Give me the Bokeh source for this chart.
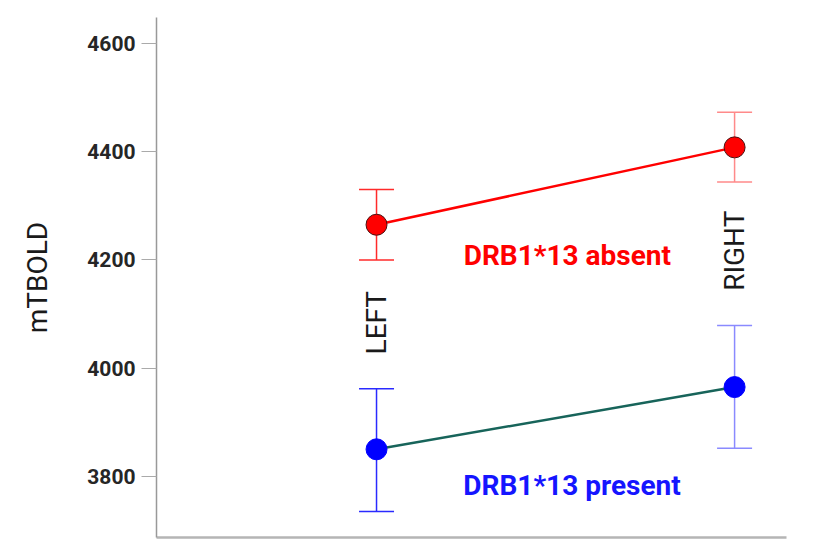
from math import pi
from bokeh.plotting import figure
from bokeh.models import ColumnDataSource, Whisker, TeeHead, Range1d, FixedTicker
from bokeh.core.properties import value
from bokeh.embed import file_html
from bokeh.resources import INLINE

# ---- data ----
sides = ["LEFT", "RIGHT"]
side_x = [0, 1]
absent_mean = [4265, 4408]
absent_upper = [4330, 4473]
absent_lower = [4200, 4344]
present_mean = [3850, 3965]
present_upper = [3962, 4079]
present_lower = [3735, 3852]
group_labels = ["DRB1*13 absent", "DRB1*13 present"]
y_ticks = [3800, 4000, 4200, 4400, 4600]

# label anchor positions (data units)
side_label_y = [4084, 4217]
group_label_x = [0.533, 0.546]
group_label_y = [4208, 3783]

FONT = "Roboto"

p = figure(frame_width=630, frame_height=520,
           x_range=Range1d(-0.6145, 1.145), y_range=Range1d(3687, 4648),
           output_backend="svg", toolbar_location=None,
           min_border_left=156, min_border_top=17, min_border_right=20,
           min_border_bottom=4)
p.grid.visible = False
p.outline_line_color = None
p.background_fill_color = "white"
p.border_fill_color = "white"

# y axis
ya = p.yaxis[0]
ya.ticker = FixedTicker(ticks=y_ticks)
ya.axis_label = "mTBOLD"
ya.axis_label_text_font = FONT
ya.axis_label_text_font_style = "normal"
ya.axis_label_text_font_size = "28px"
ya.axis_label_text_color = "#1a1a1a"
ya.axis_label_standoff = 30
ya.major_label_text_font = FONT
ya.major_label_text_font_style = "bold"
ya.major_label_text_font_size = "21px"
ya.major_label_text_color = "#262626"
ya.major_label_standoff = 6
ya.major_tick_out = 15
ya.major_tick_in = 0
ya.minor_tick_out = 0
ya.minor_tick_in = 0
ya.major_tick_line_color = "#aaaaaa"
ya.axis_line_color = "#999999"
ya.axis_line_width = 1.5

# x axis: bare line only
xa = p.xaxis[0]
xa.ticker = FixedTicker(ticks=[])
xa.major_tick_out = 0
xa.major_tick_in = 0
xa.minor_tick_out = 0
xa.minor_tick_in = 0
xa.axis_line_color = "#b5b5b5"
xa.axis_line_width = 2.5
xa.major_label_standoff = 0

# lines
p.line(side_x, absent_mean, line_color="#ff0000", line_width=2.5)
p.line(side_x, present_mean, line_color="#17645a", line_width=2.5)

# error bars
err_specs = [
    (absent_mean, absent_upper, absent_lower, ["#ff2a2a", "#ff8a8a"]),
    (present_mean, present_upper, present_lower, ["#2a2aff", "#8a8aff"]),
]
for mean, up, lo, cols in err_specs:
    for i in range(len(side_x)):
        src = ColumnDataSource(dict(base=[side_x[i]], upper=[up[i]], lower=[lo[i]]))
        w = Whisker(source=src, base="base", upper="upper", lower="lower",
                    line_color=cols[i], line_width=1.5,
                    upper_head=TeeHead(size=35, line_color=cols[i], line_width=1.5),
                    lower_head=TeeHead(size=35, line_color=cols[i], line_width=1.5))
        p.add_layout(w)

# markers
p.scatter(side_x, absent_mean, size=21, fill_color="#ff0000", line_color="#4a1010", line_width=1)
p.scatter(side_x, present_mean, size=21, fill_color="#0000ff", line_color="#0000ff", line_width=1)

# side labels (rotated)
p.text(x=side_x, y=side_label_y, text=sides, angle=pi / 2,
       text_font=value(FONT), text_font_size="28px", text_color="#1a1a1a",
       text_align="center", text_baseline="middle")

# group labels
p.text(x=group_label_x, y=group_label_y, text=group_labels,
       text_font=value(FONT), text_font_size="28px", text_font_style="bold",
       text_color=["#ff0000", "#1515ff"],
       text_align="center", text_baseline="middle")

open("out.html", "w").write(file_html(p, INLINE))
